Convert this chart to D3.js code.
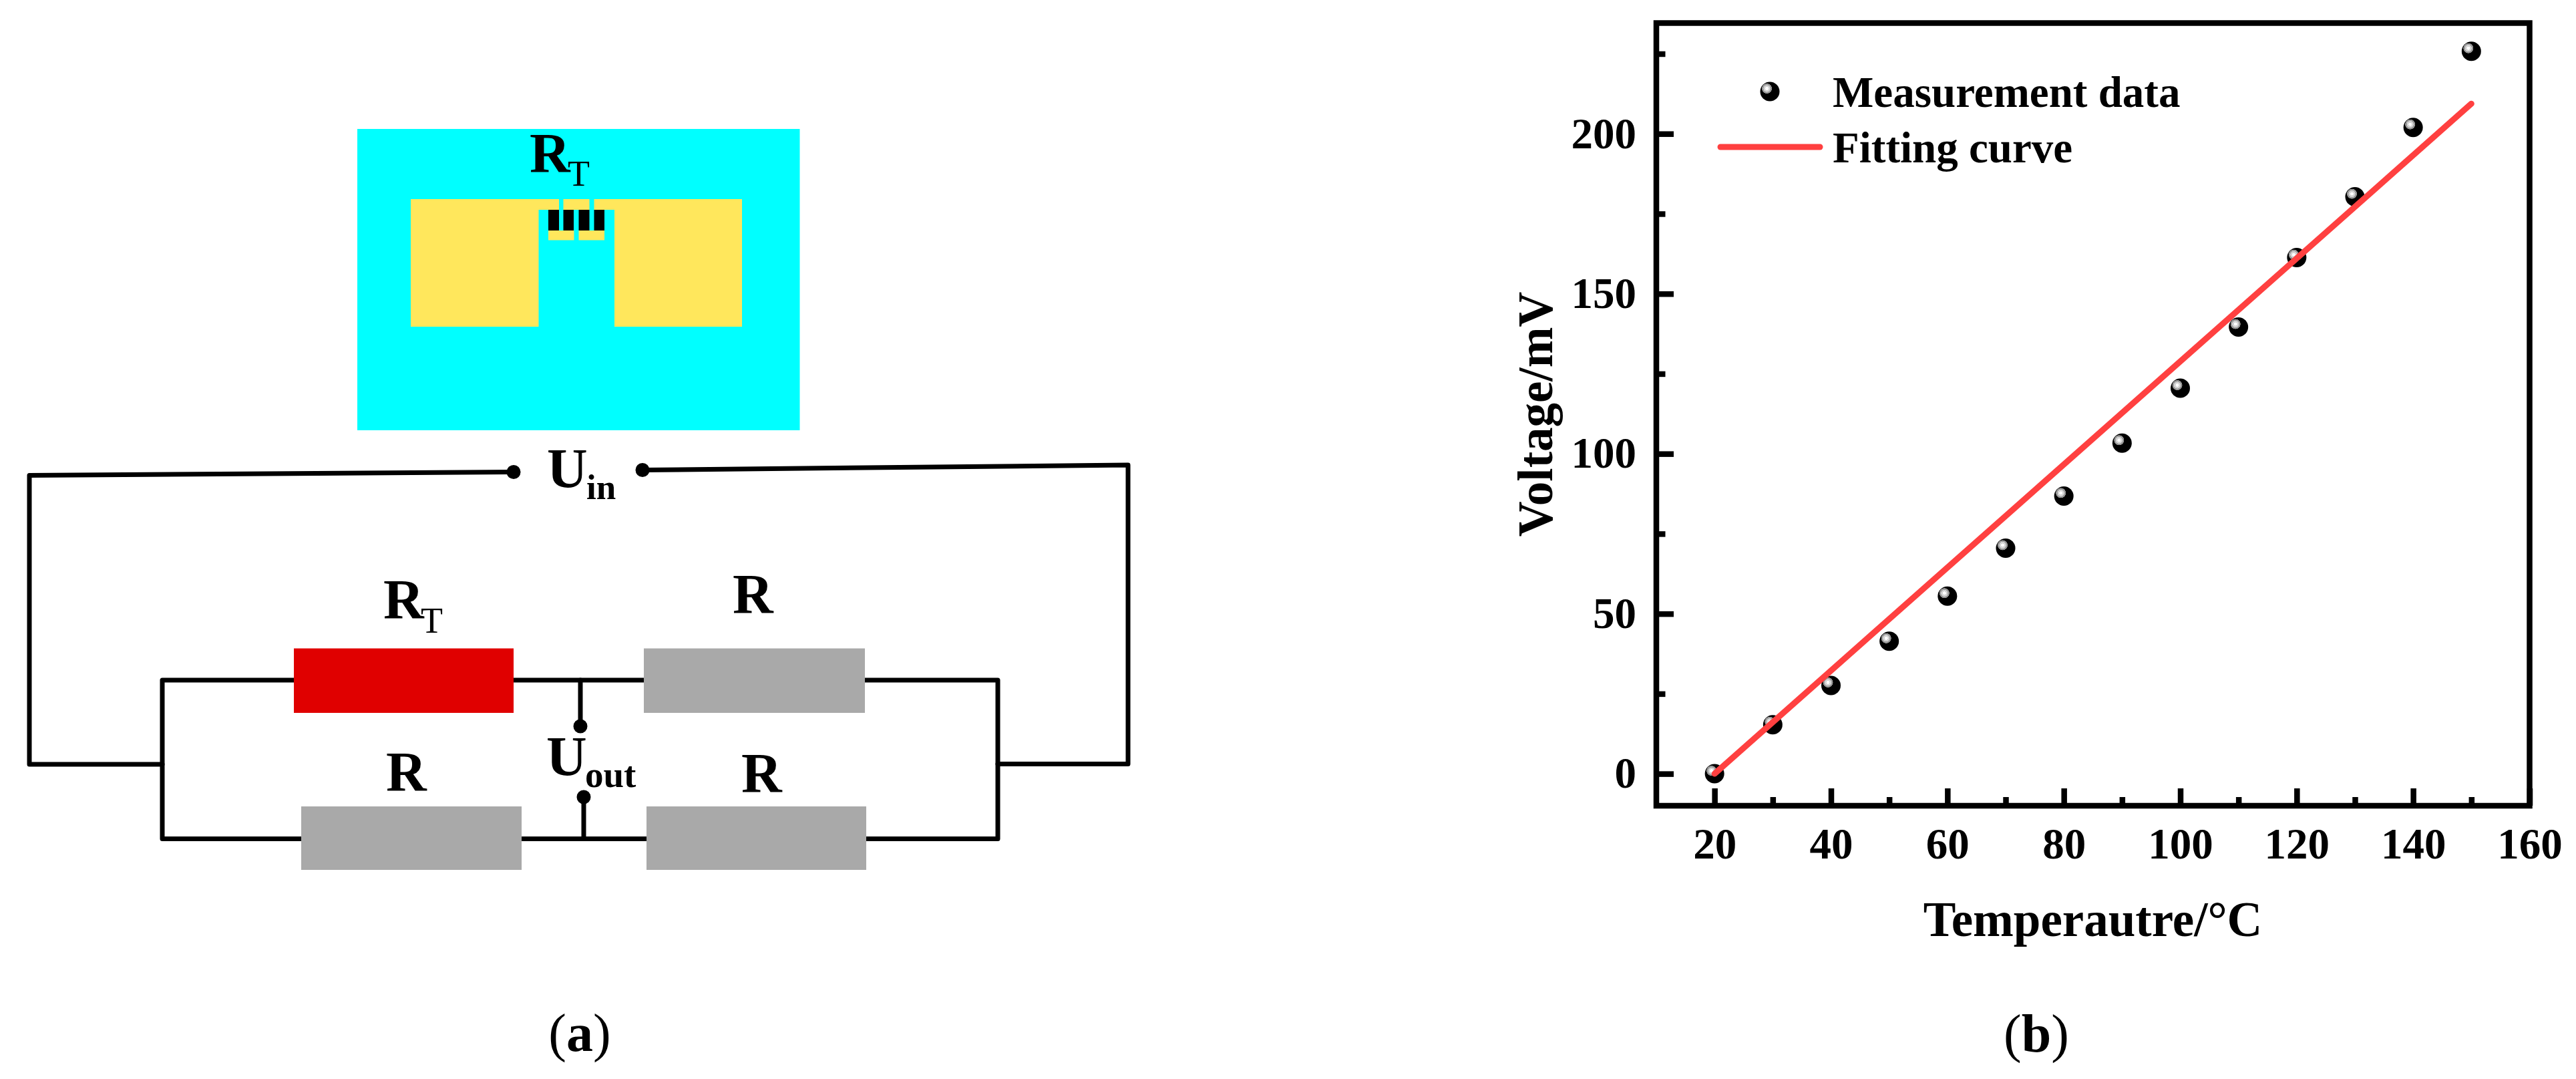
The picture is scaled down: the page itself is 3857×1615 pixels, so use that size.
<!DOCTYPE html>
<html>
<head>
<meta charset="utf-8">
<title>Bridge circuit and voltage vs temperature</title>
<script src="https://cdn.jsdelivr.net/npm/d3@7"></script>
<style>
  html, body { margin: 0; padding: 0; background: #fff; }
  svg { display: block; }
  text { font-family: "Liberation Serif", "Times New Roman", serif; fill: #000; }
</style>
</head>
<body>
<script>
    // values
    var temperature = [20, 30, 40, 50, 60, 70, 80, 90, 100, 110, 120, 130, 140, 150];
    var voltage = [0, 15.3, 27.6, 41.4, 55.5, 70.5, 86.8, 103.3, 120.5, 139.6, 161.3, 180.3, 202, 225.8];
    var fitTemperature = [20, 150];
    var fitVoltage = [0, 209.4];

    var xMajor = [20, 40, 60, 80, 100, 120, 140, 160];
    var xMinor = [30, 50, 70, 90, 110, 130, 150];
    var yMajor = [0, 50, 100, 150, 200];
    var yMinor = [25, 75, 125, 175, 225];

    var xTitle = "Temperautre/°C";
    var yTitle = "Voltage/mV";
    var legendLabels = ["Measurement data", "Fitting curve"];

    var width = 3857, height = 1615;

    var svg = d3.select("body").append("svg")
        .attr("width", width)
        .attr("height", height);

    svg.append("rect").attr("width", width).attr("height", height).attr("fill", "#fff");

    // sphere look of the markers, hard steps like the original
    var grad = svg.append("defs").append("radialGradient")
        .attr("id", "ball")
        .attr("gradientUnits", "objectBoundingBox")
        .attr("cx", 0.345).attr("cy", 0.345).attr("r", 0.5)
        .attr("fx", 0.345).attr("fy", 0.345);
    [[0, "#ffffff"], [0.16, "#ffffff"], [0.18, "#d4d4d4"], [0.34, "#d4d4d4"], [0.36, "#999999"],
     [0.5, "#999999"], [0.53, "#000000"], [1, "#000000"]].forEach(function(s){
      grad.append("stop").attr("offset", s[0]).attr("stop-color", s[1]);
    });

    drawSchematic(svg.append("g"));
    drawPlot(svg.append("g"));

    function drawPlot(g){
      var x = d3.scaleLinear().domain([10, 160]).range([2480, 3787.5]);
      var y = d3.scaleLinear().domain([-10, 234.6]).range([1206, 34.5]);

      g.append("rect")
          .attr("x", x.range()[0])
          .attr("y", y.range()[1])
          .attr("width", x.range()[1] - x.range()[0])
          .attr("height", y.range()[0] - y.range()[1])
          .attr("fill", "none")
          .attr("stroke", "#000")
          .attr("stroke-width", 8.5);

      // minor ticks first, no labels
      axisStyle(g.append("g")
          .attr("transform", "translate(0," + y.range()[0] + ")")
          .call(d3.axisBottom(x).tickValues(xMinor).tickSize(-13).tickFormat("")));
      axisStyle(g.append("g")
          .attr("transform", "translate(" + x.range()[0] + ",0)")
          .call(d3.axisLeft(y).tickValues(yMinor).tickSize(-13.5).tickFormat("")));

      axisStyle(g.append("g")
          .attr("transform", "translate(0," + y.range()[0] + ")")
          .call(d3.axisBottom(x).tickValues(xMajor).tickSize(-26).tickPadding(33).tickFormat(d3.format("d"))));
      axisStyle(g.append("g")
          .attr("transform", "translate(" + x.range()[0] + ",0)")
          .call(d3.axisLeft(y).tickValues(yMajor).tickSize(-26).tickPadding(30).tickFormat(d3.format("d"))));

      var points = temperature.map(function(d, i){ return {x: d, y: voltage[i]}; });

      g.selectAll("circle.point")
          .data(points)
          .enter().append("circle")
          .attr("class", "point")
          .attr("cx", function(d){ return x(d.x); })
          .attr("cy", function(d){ return y(d.y); })
          .attr("r", 14.5)
          .attr("fill", "url(#ball)");

      var line = d3.line()
          .x(function(d){ return x(d); })
          .y(function(d, i){ return y(fitVoltage[i]); });

      g.append("path")
          .datum(fitTemperature)
          .attr("d", line)
          .attr("fill", "none")
          .attr("stroke", "#ff4040")
          .attr("stroke-width", 9)
          .attr("stroke-linecap", "round");

      // legend
      g.append("circle").attr("cx", 2650).attr("cy", 137).attr("r", 14.5).attr("fill", "url(#ball)");
      g.append("line")
          .attr("x1", 2576).attr("x2", 2725).attr("y1", 220).attr("y2", 220)
          .attr("stroke", "#ff4040").attr("stroke-width", 9).attr("stroke-linecap", "round");
      label(g, legendLabels[0], 2744, 160, 65, "bold");
      label(g, legendLabels[1], 2744, 242.5, 65, "bold");

      // axis titles
      label(g, xTitle, 3133.5, 1401, 73, "bold").attr("text-anchor", "middle");
      label(g, yTitle, 0, 0, 73, "bold")
          .attr("text-anchor", "middle")
          .attr("transform", "translate(2324,620) rotate(-90)");

      panelLabel(g, "b", 3049, 1574);
    }

    function axisStyle(a){
      a.select(".domain").remove();
      a.selectAll(".tick line").attr("stroke", "#000").attr("stroke-width", 8.5);
      a.selectAll(".tick text")
          .style("font-family", '"Liberation Serif", "Times New Roman", serif')
          .style("font-size", "65px")
          .style("font-weight", "bold")
          .attr("fill", "#000");
    }

    function label(g, s, x, y, size, weight){
      return g.append("text")
          .attr("x", x).attr("y", y)
          .attr("font-size", size)
          .attr("font-weight", weight || "normal")
          .text(s);
    }

    function panelLabel(g, letter, cx, y){
      var t = g.append("text").attr("x", cx).attr("y", y)
          .attr("font-size", 80).attr("text-anchor", "middle");
      t.append("tspan").text("(");
      t.append("tspan").attr("font-weight", "bold").text(letter);
      t.append("tspan").text(")");
    }

    function drawSchematic(g){
      // sensor layout, pixel positions
      var blocks = [
        [535, 193, 662.5, 451, "#00ffff"],
        [615, 298, 191.5, 191, "#ffe75c"],
        [920, 298, 191, 191, "#ffe75c"],
        [806, 298, 31, 16, "#ffe75c"],
        [843.5, 298, 39, 16, "#ffe75c"],
        [889.5, 298, 31, 16, "#ffe75c"],
        [821, 345, 38.5, 14.5, "#ffe75c"],
        [866.5, 345, 38.5, 14.5, "#ffe75c"],
        [821, 314, 16, 31, "#000"],
        [843.5, 314, 15.5, 31, "#000"],
        [866.5, 314, 16, 31, "#000"],
        [889.5, 314, 15.5, 31, "#000"],
        // resistors
        [440, 970.5, 329, 96.5, "#e00000"],
        [964, 970.5, 331, 96.5, "#a9a9a9"],
        [451, 1207, 330, 95, "#a9a9a9"],
        [968, 1207, 329, 95, "#a9a9a9"]
      ];

      var wires = [
        [[769, 706.5], [44, 711.5], [44, 1144], [243, 1144]],
        [[962, 703.5], [1689, 696], [1689, 1143.5], [1494, 1143.5]],
        [[440, 1018], [243, 1018], [243, 1255.5], [451, 1255.5]],
        [[1295, 1018], [1494, 1018], [1494, 1255.5], [1297, 1255.5]],
        [[769, 1018], [964, 1018]],
        [[781, 1255.5], [968, 1255.5]],
        [[869, 1018], [869, 1087]],
        [[874, 1255.5], [874, 1193]]
      ];

      var dots = [[769, 706.5], [962, 703.5], [869, 1087], [874, 1193]];

      var wireLine = d3.line();
      g.selectAll("path.wire").data(wires).enter().append("path")
          .attr("class", "wire")
          .attr("d", wireLine)
          .attr("fill", "none")
          .attr("stroke", "#000")
          .attr("stroke-width", 7)
          .attr("stroke-linejoin", "round")
          .attr("stroke-linecap", "round");

      g.selectAll("rect.block").data(blocks).enter().append("rect")
          .attr("class", "block")
          .attr("x", function(d){ return d[0]; })
          .attr("y", function(d){ return d[1]; })
          .attr("width", function(d){ return d[2]; })
          .attr("height", function(d){ return d[3]; })
          .attr("fill", function(d){ return d[4]; });

      g.selectAll("circle.dot").data(dots).enter().append("circle")
          .attr("class", "dot")
          .attr("cx", function(d){ return d[0]; })
          .attr("cy", function(d){ return d[1]; })
          .attr("r", 10.5)
          .attr("fill", "#000");

      // name + subscript
      label(g, "R", 793, 258, 84, "bold");
      label(g, "T", 850, 278, 54);

      label(g, "U", 819, 730, 84, "bold");
      label(g, "in", 878, 747, 53, "bold");

      label(g, "R", 574, 926, 84, "bold");
      label(g, "T", 630, 947, 54);
      label(g, "R", 1097, 918, 84, "bold");
      label(g, "R", 578, 1184, 84, "bold");
      label(g, "R", 1110, 1186, 84, "bold");

      label(g, "U", 818, 1161, 84, "bold");
      label(g, "out", 876, 1178, 55, "bold");

      panelLabel(g, "a", 868, 1573);
    }
</script>
</body>
</html>
